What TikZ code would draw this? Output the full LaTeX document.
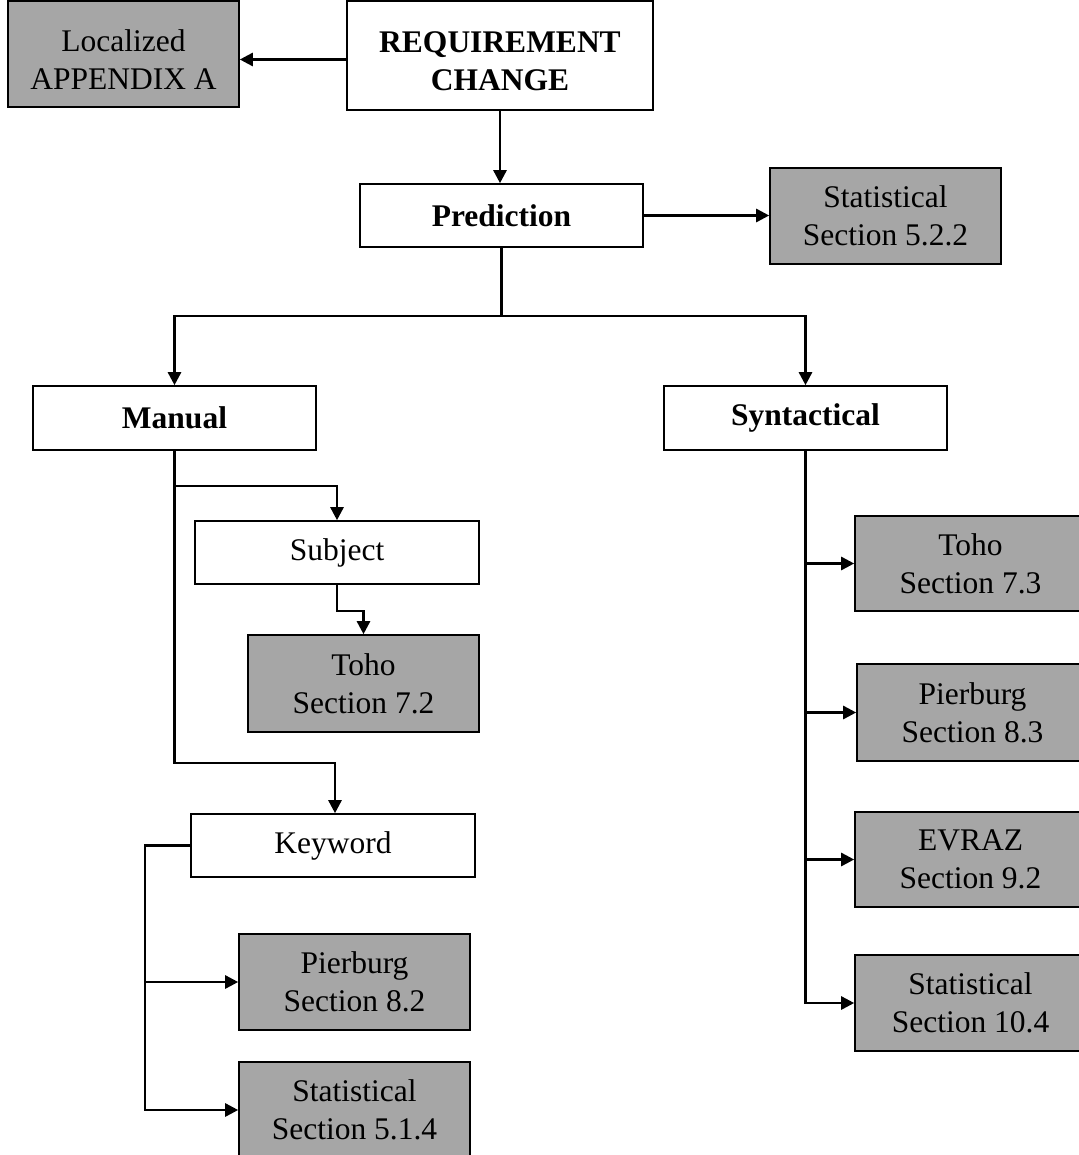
\documentclass[tikz,border=0pt]{standalone}
\usepackage{fontspec}
\setmainfont{Liberation Serif}
\usetikzlibrary{arrows.meta}
\definecolor{leafgray}{HTML}{A6A6A6}
\newcommand{\lowstrut}{\rule{0pt}{33pt}}
\begin{document}
\begin{tikzpicture}[x=1pt,y=-1pt,
  box/.style={draw=black, line width=1.6pt, inner sep=0pt, align=center,
    font=\fontsize{31.5}{38}\selectfont},
  sz/.style 2 args={minimum width=#1pt, minimum height=#2pt},
  leaf/.style={box, fill=leafgray, sz={231}{96}},
  head/.style={box, fill=white, font=\fontsize{31.5}{38}\selectfont\bfseries},
  plain/.style={box, fill=white},
  wire/.style={line width=2.6pt, line join=miter},
  link/.style={wire, -{Triangle[length=13pt,width=13pt]}}
]
\useasboundingbox (0,0) rectangle (1078,1155);

% top level
\node[leaf, sz={231}{106}] (appx) at (123.5,54) {\lowstrut Localized\\APPENDIX A};
\node[head, sz={306}{109}] (req) at (500,55.5) {\lowstrut REQUIREMENT\\CHANGE};
\node[head, sz={283}{63}] (pred) at (501.5,215.5) {Prediction};
\node[leaf] (stat522) at (885.5,216) {Statistical\\Section 5.2.2};

% second level
\node[head, sz={283}{64}] (manual) at (174.5,418) {Manual};
\node[head, sz={283}{64}] (synt) at (805.5,418) {Syntactical};

% manual branch
\node[plain, sz={284}{63}] (subject) at (337,552.5) {Subject};
\node[leaf, sz={231}{97}] (toho72) at (363.5,683.5) {Toho\\Section 7.2};
\node[plain, sz={284}{63}] (keyword) at (333,845.5) {Keyword};
\node[leaf] (pier82) at (354.5,982) {Pierburg\\Section 8.2};
\node[leaf] (stat514) at (354.5,1110) {Statistical\\Section 5.1.4};

% syntactical branch
\node[leaf, sz={231}{95}] (toho73) at (970.5,563.5) {Toho\\Section 7.3};
\node[leaf, sz={231}{97}] (pier83) at (972.5,712.5) {Pierburg\\Section 8.3};
\node[leaf, sz={231}{95}] (evraz) at (970.5,859.5) {EVRAZ\\Section 9.2};
\node[leaf] (stat104) at (970.5,1003) {Statistical\\Section 10.4};

% connectors from the top
\draw[link] ([yshift=-4pt]req.west) -- ([yshift=-4pt]req.west -| appx.east);
\draw[link] (req.south) -- (req.south |- pred.north);
\draw[link] (pred.east) -- (pred.east -| stat522.west);

\coordinate (hub) at (pred.south |- 0,316);
\draw[wire] (pred.south) -- (hub);
\draw[link] (hub) -| (manual.north);
\draw[link] (hub) -| (synt.north);

% manual tree
\coordinate (mj1) at (manual.south |- 0,486);
\coordinate (mj2) at (manual.south |- 0,763);
\draw[wire] (manual.south) -- (mj1);
\draw[link] (manual.south) -- (mj2) -| ([xshift=2pt]keyword.north);
\draw[link] (mj1) -| (subject.north);
\draw[link] (subject.south) -- ++(0,26) -| (toho72.north);

\coordinate (kx) at (145,845.5);
\draw[link] (keyword.west) -- (kx) |- (stat514.west);
\draw[link] (kx |- pier82.west) -- (pier82.west);

% syntactical tree
\coordinate (sx) at (synt.south);
\draw[link] (synt.south) |- (stat104.west);
\draw[link] (sx |- toho73.west) -- (toho73.west);
\draw[link] (sx |- pier83.west) -- (pier83.west);
\draw[link] (sx |- evraz.west) -- (evraz.west);
\end{tikzpicture}
\end{document}
